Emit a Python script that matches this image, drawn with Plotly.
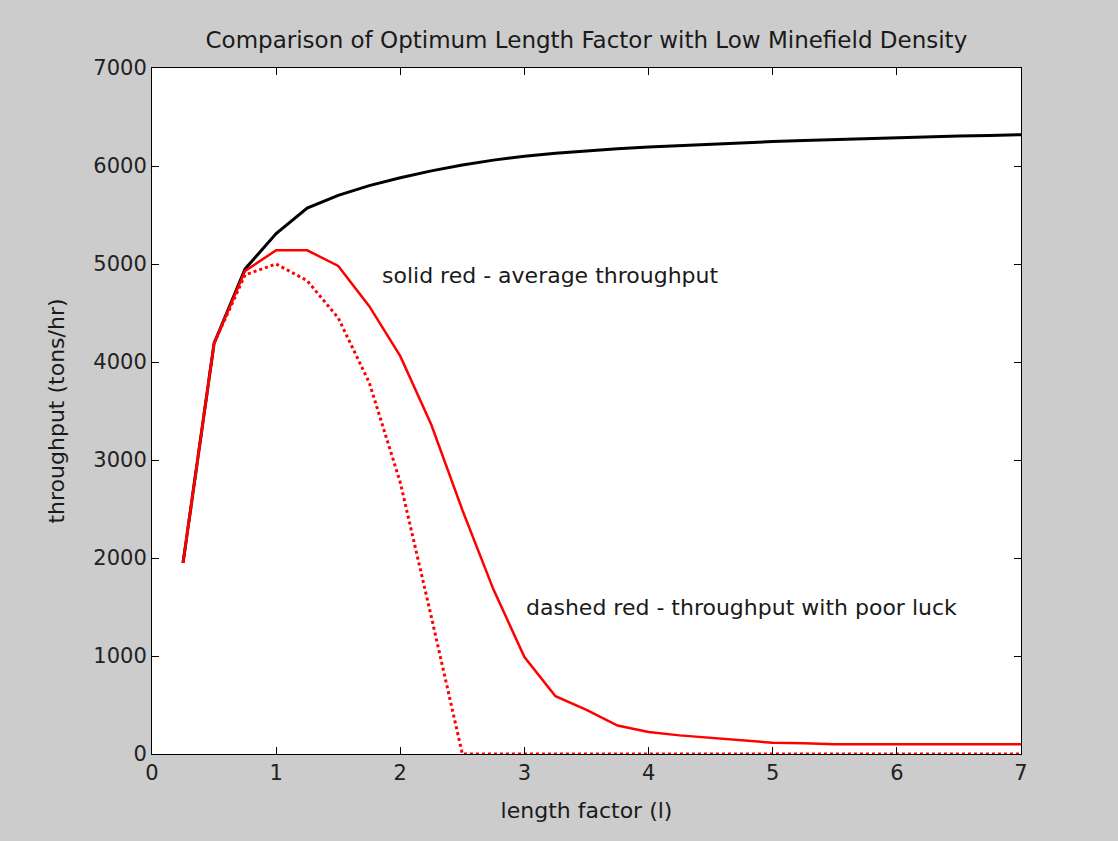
import plotly.graph_objects as go

length_factor = [0.25, 0.5, 0.75, 1.0, 1.25, 1.5, 1.75, 2.0, 2.25, 2.5, 2.75, 3.0, 3.25, 3.5,
                 3.75, 4.0, 4.25, 4.5, 4.75, 5.0, 5.25, 5.5, 5.75, 6.0, 6.25, 6.5, 6.75, 7.0]

max_throughput = [1950, 4190, 4950, 5310, 5570, 5700, 5800, 5880, 5950, 6010, 6060, 6100, 6130, 6155,
                  6175, 6195, 6210, 6225, 6240, 6250, 6260, 6270, 6280, 6290, 6297, 6305, 6312, 6320]

avg_throughput = [1950, 4190, 4930, 5140, 5140, 4980, 4570, 4060, 3360, 2490, 1680, 990, 590, 450,
                  290, 225, 190, 165, 145, 115, 110, 100, 100, 100, 100, 100, 100, 100]

poor_luck_throughput = [1950, 4190, 4890, 5000, 4830, 4450, 3790, 2770, 1400, 0, 0, 0, 0, 0,
                        0, 0, 0, 0, 0, 0, 0, 0, 0, 0, 0, 0, 0, 0]

title_text = "Comparison of Optimum Length Factor with Low Minefield Density"
x_label = "length factor (l)"
y_label = "throughput (tons/hr)"
note_solid = "solid red - average throughput"
note_dashed = "dashed red - throughput with poor luck"

x_ticks = [0, 1, 2, 3, 4, 5, 6, 7]
y_ticks = [0, 1000, 2000, 3000, 4000, 5000, 6000, 7000]

FONT = "DejaVu Sans, sans-serif"
TXT = 22
TICK = 21
INK = "#1a1a1a"

fig = go.Figure()
fig.add_trace(go.Scatter(x=length_factor, y=max_throughput, mode="lines",
                         line=dict(color="black", width=3), showlegend=False))
fig.add_trace(go.Scatter(x=length_factor, y=poor_luck_throughput, mode="lines",
                         line=dict(color="#ff0000", width=3, dash="dot"), showlegend=False))
fig.add_trace(go.Scatter(x=length_factor, y=avg_throughput, mode="lines",
                         line=dict(color="#ff0000", width=2.5), showlegend=False))

fig.add_annotation(x=1.84, y=4880, text=note_solid, showarrow=False, xanchor="left",
                   yanchor="middle", font=dict(family=FONT, size=TXT, color=INK))
fig.add_annotation(x=3.0, y=1490, text=note_dashed, showarrow=False, xanchor="left",
                   yanchor="middle", font=dict(family=FONT, size=TXT, color=INK))

axis_common = dict(showgrid=False, zeroline=False, showline=True, linecolor="black",
                   linewidth=1, mirror="ticks", ticks="inside", ticklen=7, tickwidth=1,
                   tickcolor="black", tickfont=dict(family=FONT, size=TICK, color="#222222"))

fig.update_xaxes(range=[0, 7], tickvals=x_ticks, ticktext=[str(v) for v in x_ticks],
                 title=dict(text=x_label, font=dict(family=FONT, size=TXT, color=INK), standoff=18),
                 **axis_common)
fig.update_yaxes(range=[0, 7000], tickvals=y_ticks, ticktext=[str(v) for v in y_ticks],
                 title=dict(text=y_label, font=dict(family=FONT, size=TXT, color=INK), standoff=22),
                 **axis_common)

fig.update_layout(
    width=1118, height=841,
    paper_bgcolor="#cccccc", plot_bgcolor="white",
    margin=dict(l=152, r=97, t=68, b=87),
    title=dict(text=title_text, x=0.5245, xanchor="center", y=0.953, yanchor="middle",
               font=dict(family=FONT, size=23, color=INK)),
)

fig.write_html("out.html", config={"displayModeBar": False},
               post_script="document.body.style.margin='0px';")
